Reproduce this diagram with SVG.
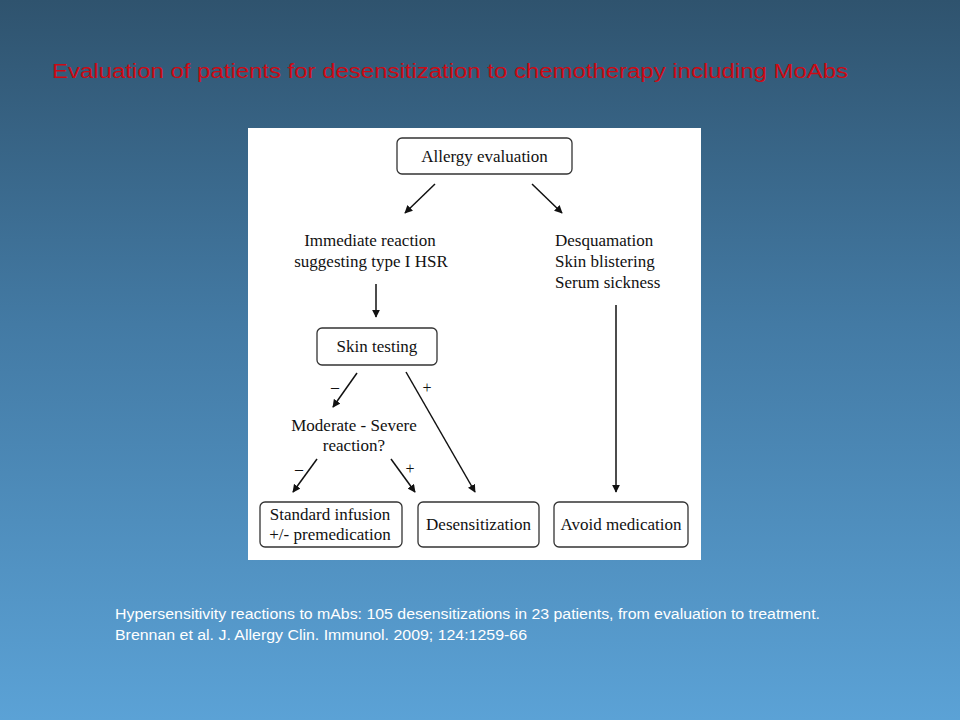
<svg xmlns="http://www.w3.org/2000/svg" width="960" height="720" viewBox="0 0 960 720">
<defs>
<linearGradient id="bg" x1="0" y1="0" x2="0" y2="1">
<stop offset="0" stop-color="#2f536e"/>
<stop offset="0.45" stop-color="#437aa4"/>
<stop offset="1" stop-color="#5ba2d6"/>
</linearGradient>
<marker id="ah" viewBox="0 0 10 10" refX="9" refY="5" markerWidth="8" markerHeight="8" markerUnits="userSpaceOnUse" orient="auto">
<path d="M0,0 L10,5 L0,10 z" fill="#111"/>
</marker>
<style>
.box{fill:#fff;stroke:#333;stroke-width:1.3}
.t{font-family:"Liberation Serif","Times New Roman",serif;font-size:17px;fill:#111}
.c{text-anchor:middle}
.s{font-family:"Liberation Serif",serif;font-size:16px;fill:#111;text-anchor:middle}
.ln{stroke:#111;stroke-width:1.5;fill:none;marker-end:url(#ah)}
</style>
</defs>
<rect width="960" height="720" fill="url(#bg)"/>
<text x="52" y="78" font-family="Liberation Sans,Arial,sans-serif" font-size="20" fill="#cc0a14" textLength="796" lengthAdjust="spacingAndGlyphs">Evaluation of patients for desensitization  to chemotherapy  including MoAbs</text>
<rect x="248" y="128" width="453" height="432" fill="#fff"/>
<g id="connectors">
<line class="ln" x1="435" y1="184" x2="405" y2="213"/>
<line class="ln" x1="532" y1="184" x2="562" y2="213"/>
<line class="ln" x1="376" y1="284" x2="376" y2="317"/>
<line class="ln" x1="616" y1="305" x2="616" y2="492"/>
<line class="ln" x1="357" y1="373" x2="333" y2="407"/>
<line class="ln" x1="406" y1="372" x2="475" y2="492"/>
<line class="ln" x1="317" y1="459" x2="293" y2="492"/>
<line class="ln" x1="391" y1="459" x2="415" y2="492"/>
<text class="s" x="335" y="392">–</text>
<text class="s" x="427" y="393">+</text>
<text class="s" x="299" y="474">–</text>
<text class="s" x="410" y="474">+</text>
</g>
<g id="allergy">
<rect class="box" x="397" y="138" width="175" height="36" rx="5"/>
<text class="t c" x="484.5" y="162">Allergy evaluation</text>
</g>
<g id="immediate">
<text class="t c" x="370" y="246">Immediate reaction</text>
<text class="t c" x="371" y="267">suggesting type I HSR</text>
</g>
<g id="desquamation">
<text class="t" x="555" y="246">Desquamation</text>
<text class="t" x="555" y="267">Skin blistering</text>
<text class="t" x="555" y="288">Serum sickness</text>
</g>
<g id="skin">
<rect class="box" x="317" y="328" width="120" height="37" rx="5"/>
<text class="t c" x="377" y="352">Skin testing</text>
</g>
<g id="moderate">
<text class="t c" x="354" y="431">Moderate - Severe</text>
<text class="t c" x="354" y="451">reaction?</text>
</g>
<g id="standard">
<rect class="box" x="260" y="502" width="142" height="45" rx="5"/>
<text class="t c" x="330" y="520">Standard infusion</text>
<text class="t c" x="330" y="540">+/- premedication</text>
</g>
<g id="desens">
<rect class="box" x="418" y="502" width="121" height="45" rx="5"/>
<text class="t c" x="478.5" y="530">Desensitization</text>
</g>
<g id="avoid">
<rect class="box" x="554" y="502" width="134" height="45" rx="5"/>
<text class="t c" x="621" y="530">Avoid medication</text>
</g>
<g font-family="Liberation Sans,Arial,sans-serif" font-size="14" fill="#ffffff">
<text x="115" y="619" textLength="705" lengthAdjust="spacingAndGlyphs">Hypersensitivity reactions to mAbs: 105 desensitizations in 23 patients, from evaluation to treatment.</text>
<text x="115" y="640" textLength="412" lengthAdjust="spacingAndGlyphs">Brennan et al. J. Allergy Clin. Immunol. 2009; 124:1259-66</text>
</g>
</svg>
